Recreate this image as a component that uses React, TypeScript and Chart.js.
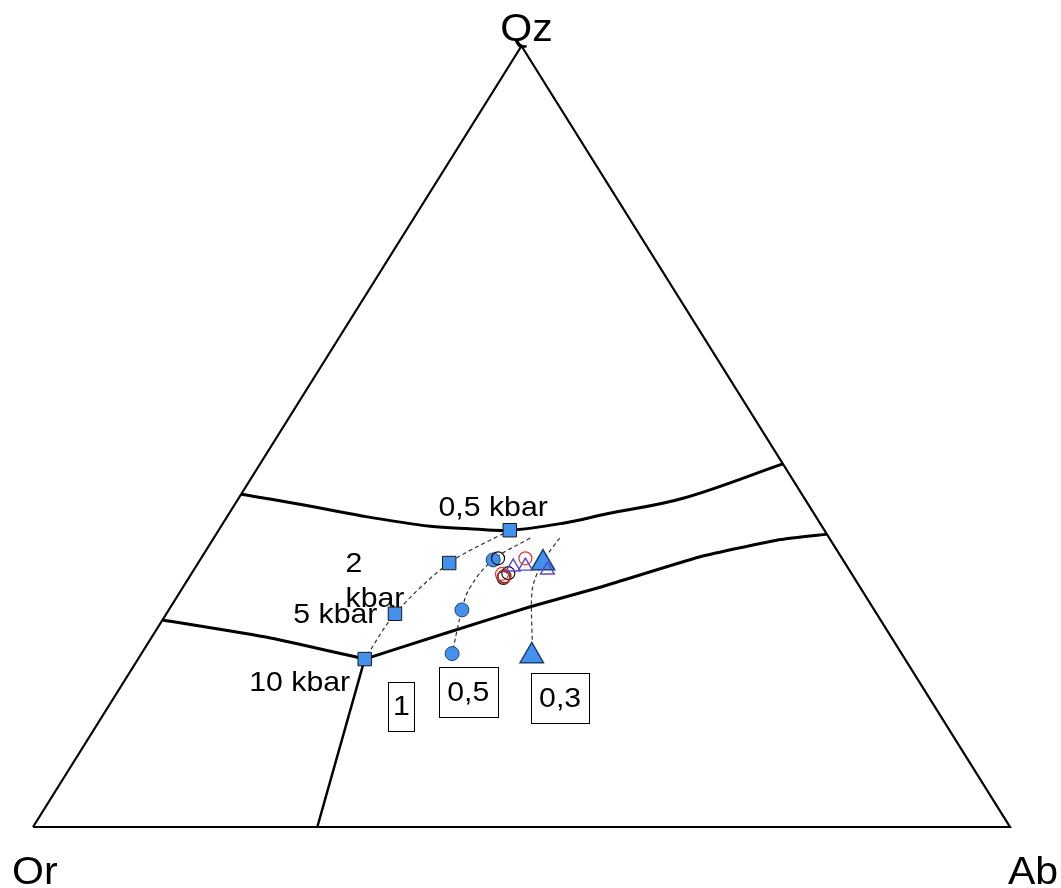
import { useEffect, useRef } from "react";
import { Chart, registerables } from "chart.js";

Chart.register(...registerables);

// Compositions are [Qz, Ab, Or] in weight percent.
type T = [number, number, number];

const vertexNames = ["Qz", "Or", "Ab"];

const triangleFrame: T[] = [
  [0, 0, 100],
  [100, 0, 0],
  [0, 100, 0],
  [0, 0, 100],
];

// Cotectic boundaries and the feldspar field boundary
const cotecticUpper: T[] = [
  [42.6, 0, 57.4],
  [41.4, 6.3, 52.3],
  [39.8, 13.9, 46.3],
  [38.5, 21.4, 40.1],
  [38.2, 25.6, 36.2],
  [38.0, 29.8, 32.2],
  [38.9, 34.8, 26.3],
  [40.1, 38.7, 21.2],
  [42.1, 45.5, 12.4],
  [46.5, 53.5, 0],
];
const cotecticLowerLeft: T[] = [
  [26.5, 0, 73.5],
  [24.2, 12.2, 63.6],
  [21.5, 23.2, 55.3],
];
const cotecticLowerRight: T[] = [
  [21.5, 23.2, 55.3],
  [25.0, 30.2, 44.8],
  [28.2, 36.8, 35.0],
  [30.7, 42.7, 26.6],
  [34.6, 51.0, 14.4],
  [36.8, 58.1, 5.1],
  [37.5, 62.5, 0],
];
const feldsparBoundary: T[] = [
  [21.5, 23.2, 55.3],
  [0, 29.1, 70.9],
];

// Minimum-melt compositions for water activity 1, 0.5 and 0.3
const minimaAw1: T[] = [
  [38.0, 29.8, 32.2],
  [33.8, 25.7, 40.5],
  [27.3, 23.4, 49.3],
  [21.5, 23.2, 55.3],
];
const minimaAw05: T[] = [
  [34.2, 30.0, 35.8],
  [27.8, 30.0, 42.2],
  [22.2, 31.8, 46.0],
];
const minimaAw03: T[] = [
  [33.8, 35.3, 30.9],
  [21.9, 40.1, 38.0],
];

// Trends through the minima
const trendAw05: T[] = [
  [37.0, 32.4, 30.6],
  [34.2, 30.0, 35.8],
  [30.7, 29.4, 39.9],
  [27.8, 30.0, 42.2],
  [22.2, 31.8, 46.0],
];
const trendAw03: T[] = [
  [37.0, 35.4, 27.6],
  [33.9, 35.2, 30.9],
  [30.4, 35.9, 33.7],
  [23.6, 39.3, 37.1],
];

// Sample compositions
const samplesBlack: T[] = [
  [34.4, 30.4, 35.2],
  [32.1, 32.2, 35.7],
  [32.5, 32.4, 35.1],
  [31.9, 32.2, 35.9],
];
const samplesRed: T[] = [
  [34.4, 33.2, 32.4],
  [32.4, 31.8, 35.8],
  [32.0, 32.2, 35.8],
];
const samplesPurple: T[] = [
  [33.3, 32.5, 34.2],
  [33.4, 33.7, 32.9],
  [32.9, 36.2, 30.9],
];

const pressureLabels = ["0,5 kbar", "2", "kbar", "5 kbar", "10 kbar"];
const pressureLabelAt: T[] = [
  [39.8, 27.2, 33.0],
  [32.7, 16.5, 50.8],
  [28.2, 20.9, 50.9],
  [26.1, 17.9, 56.0],
  [17.4, 18.6, 64.0],
];

const activityLabels = ["1", "0,5", "0,3"];
const activityLabelAt: T[] = [
  [15.4, 30.0, 54.6],
  [17.3, 35.9, 46.8],
  [16.5, 45.7, 37.8],
];
const activityBoxSize = [
  [26, 49],
  [59, 50],
  [58, 50],
];

const FONT = '"Liberation Sans", Arial, Helvetica, sans-serif';
const BLUE = "#4391ec";
const TEXT_STRETCH = 1.08;

const toXY = ([qz, ab]: T) => ({ x: (ab + qz / 2) / 100, y: qz / 100 });

const lineSet = (pts: T[], width: number, tension: number, dash?: number[]) => ({
  data: pts.map(toXY),
  showLine: true,
  borderColor: dash ? "#333" : "#000",
  borderWidth: width,
  borderDash: dash || [],
  pointRadius: 0,
  pointHoverRadius: 0,
  tension,
  fill: false,
  clip: false as const,
});

const markerSet = (
  pts: T[],
  style: string,
  radius: number,
  fill: string,
  stroke: string,
  width: number
) => ({
  data: pts.map(toXY),
  showLine: false,
  pointStyle: style,
  pointRadius: radius,
  pointHoverRadius: radius,
  backgroundColor: fill,
  borderColor: stroke,
  pointBorderWidth: width,
  borderWidth: width,
  clip: false as const,
});

const drawText = (ctx: CanvasRenderingContext2D, txt: string, x: number, y: number) => {
  ctx.save();
  ctx.translate(x, y);
  ctx.scale(TEXT_STRETCH, 1);
  ctx.fillText(txt, 0, 0);
  ctx.restore();
};

const textPlugin = {
  id: "ternaryText",
  afterDatasetsDraw(chart: any) {
    const { ctx, scales, chartArea } = chart;
    const xs = scales.x;
    const ys = scales.y;
    const px = (t: T) => {
      const p = toXY(t);
      return [xs.getPixelForValue(p.x), ys.getPixelForValue(p.y)];
    };
    ctx.save();
    ctx.fillStyle = "#000";
    ctx.strokeStyle = "#000";

    // Corner labels
    ctx.font = `38px ${FONT}`;
    ctx.textBaseline = "alphabetic";
    ctx.textAlign = "center";
    const apex = px([100, 0, 0]);
    drawText(ctx, vertexNames[0], apex[0] + 5, apex[1] - 5);
    ctx.textAlign = "left";
    drawText(ctx, vertexNames[1], chartArea.left - 21, chartArea.bottom + 57);
    drawText(ctx, vertexNames[2], chartArea.right - 2, chartArea.bottom + 57);

    // Pressure labels
    ctx.font = `28px ${FONT}`;
    ctx.textAlign = "center";
    pressureLabels.forEach((txt, i) => {
      const [x, y] = px(pressureLabelAt[i]);
      drawText(ctx, txt, x, y);
    });

    // Water activity boxes
    ctx.textBaseline = "middle";
    ctx.lineWidth = 1;
    activityLabels.forEach((txt, i) => {
      const [x, y] = px(activityLabelAt[i]);
      const [w, h] = activityBoxSize[i];
      ctx.strokeRect(Math.round(x - w / 2) + 0.5, Math.round(y - h / 2) + 0.5, w, h);
      drawText(ctx, txt, x, y + 1);
    });
    ctx.restore();
  },
};

export default function App() {
  const ref = useRef<HTMLCanvasElement | null>(null);

  useEffect(() => {
    if (!ref.current) return;
    const chart = new Chart(ref.current, {
      type: "scatter",
      data: {
        datasets: [
          markerSet(samplesPurple, "triangle", 8, "rgba(0,0,0,0)", "#5b45d6", 1.4),
          markerSet(samplesRed, "circle", 6.5, "rgba(0,0,0,0)", "#e5352b", 1.2),
          markerSet(samplesBlack, "circle", 6.5, "rgba(0,0,0,0)", "#111", 1.2),
          markerSet(minimaAw03, "triangle", 13.5, BLUE, "#1d3f73", 1.5),
          markerSet(minimaAw05, "circle", 7, BLUE, "#1d3f73", 1),
          markerSet(minimaAw1, "rect", 9.5, BLUE, "#1a1a1a", 1),
          lineSet(minimaAw1, 1.2, 0.3, [4, 3]),
          lineSet(trendAw05, 1.2, 0.4, [4, 3]),
          lineSet(trendAw03, 1.2, 0.3, [4, 3]),
          lineSet(cotecticUpper, 3, 0.35),
          lineSet(cotecticLowerLeft, 3, 0.2),
          lineSet(cotecticLowerRight, 3, 0.15),
          lineSet(feldsparBoundary, 2.5, 0),
          lineSet(triangleFrame, 2.2, 0),
        ],
      },
      options: {
        animation: false,
        responsive: false,
        devicePixelRatio: 1,
        layout: { padding: { left: 33, right: 51, top: 46, bottom: 61 } },
        scales: {
          x: { type: "linear", min: 0, max: 1, display: false },
          y: { type: "linear", min: 0, max: 1, display: false },
        },
        plugins: {
          legend: { display: false },
          tooltip: { enabled: false },
        },
        events: [],
      },
      plugins: [textPlugin],
    });
    return () => chart.destroy();
  }, []);

  return (
    <div
      style={{
        position: "fixed",
        left: 0,
        top: 0,
        width: 1061,
        height: 888,
        background: "#fff",
      }}
    >
      <canvas ref={ref} width={1061} height={888} />
    </div>
  );
}
